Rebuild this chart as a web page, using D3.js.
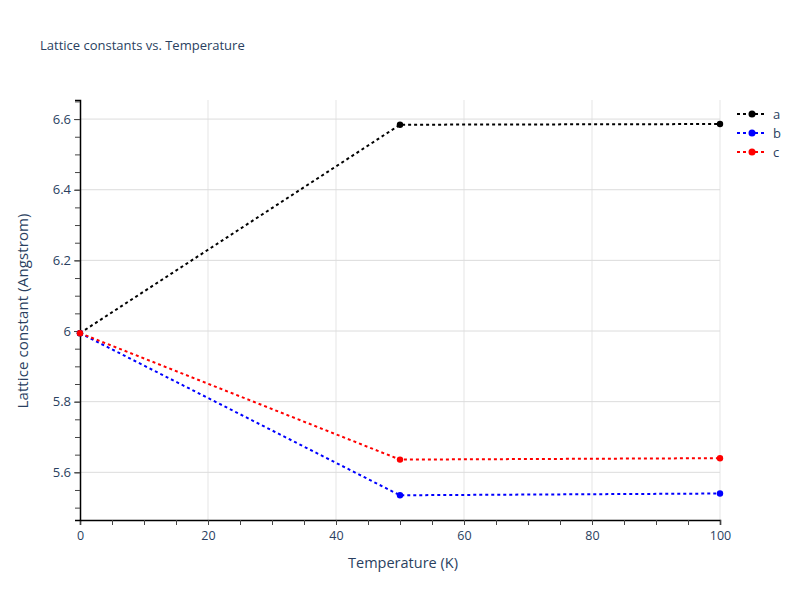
<!DOCTYPE html>
<html><head><meta charset="utf-8">
<script src="https://cdn.jsdelivr.net/npm/d3@7/dist/d3.min.js"></script>
<style>body{margin:0;background:#fff}text{font-family:"Open Sans",sans-serif}</style>
</head><body><svg id="c" width="800" height="600"></svg>
<script>
const temps = [0, 50, 100];
const seriesNames = ["a", "b", "c"];
const aVals = [5.994, 6.584, 6.586];
const bVals = [5.994, 5.535, 5.540];
const cVals = [5.994, 5.636, 5.640];
const colors = ["#000000", "#0000ff", "#ff0000"];
const xTicks = [0, 20, 40, 60, 80, 100];
const yTicks = [5.6, 5.8, 6.0, 6.2, 6.4, 6.6];
const yTickLabels = ["5.6", "5.8", "6", "6.2", "6.4", "6.6"];
const values = [aVals, bVals, cVals];

const svg = d3.select("#c");
const L = 80, R = 720, T = 100, B = 520;
const x = d3.scaleLinear().domain([0, 100]).range([L, R]);
const y = d3.scaleLinear().domain([5.465, 6.654]).range([B, T]);
const txt = "#2a3f5f";

// gridlines
svg.append("g").selectAll("line").data(xTicks.slice(1)).join("line")
  .attr("x1", d => x(d)).attr("x2", d => x(d)).attr("y1", T).attr("y2", B)
  .attr("stroke", "#e5e5e5").attr("stroke-width", 1);
svg.append("g").selectAll("line").data(yTicks).join("line")
  .attr("x1", L).attr("x2", R).attr("y1", d => y(d)).attr("y2", d => y(d))
  .attr("stroke", "#dcdcdc").attr("stroke-width", 1);

// axes
const xMinor = d3.range(0, 101, 5);
const yMinor = d3.range(5.5, 6.66, 0.05);
const xa = svg.append("g").attr("transform", `translate(0,${B})`);
xa.call(d3.axisBottom(x).tickValues(xMinor).tickFormat("").tickSizeOuter(0).tickSize(5));
xa.selectAll("path").attr("stroke", "#000");
xa.selectAll("line").attr("stroke", "#444");
const xa2 = svg.append("g").attr("transform", `translate(0,${B})`);
xa2.call(d3.axisBottom(x).tickValues(xTicks).tickFormat(d3.format("d")).tickSize(5).tickPadding(6));
xa2.select("path").remove();
xa2.selectAll("line").attr("stroke", "#444");
xa2.selectAll("text").attr("fill", txt).attr("font-size", 12.5);

const ya = svg.append("g").attr("transform", `translate(${L},0)`);
ya.call(d3.axisLeft(y).tickValues(yMinor.filter(v => v >= 5.465 && v <= 6.654)).tickFormat("").tickSizeOuter(0).tickSize(5));
ya.selectAll("path").attr("stroke", "#000");
ya.selectAll("line").attr("stroke", "#444");
const ya2 = svg.append("g").attr("transform", `translate(${L},0)`);
ya2.call(d3.axisLeft(y).tickValues(yTicks).tickFormat((d, i) => yTickLabels[i]).tickSize(6).tickPadding(3));
ya2.select("path").remove();
ya2.selectAll("line").attr("stroke", "#444");
ya2.selectAll("text").attr("fill", txt).attr("font-size", 13);

svg.selectAll(".domain").attr("stroke-width", 1.5);

// series
const line = d3.line().x((d, i) => x(temps[i])).y(d => y(d));
values.forEach((vals, k) => {
  svg.append("path").datum(vals).attr("d", line).attr("fill", "none")
    .attr("stroke", colors[k]).attr("stroke-width", 2).attr("stroke-dasharray", "3,3");
  svg.append("g").selectAll("circle").data(vals).join("circle")
    .attr("cx", (d, i) => x(temps[i])).attr("cy", d => y(d)).attr("r", 3.2)
    .attr("fill", colors[k]);
});

// title
svg.append("text").attr("x", 40).attr("y", 50).attr("font-size", 13).attr("fill", txt)
  .text("Lattice constants vs. Temperature");
svg.append("text").attr("x", 403).attr("y", 568).attr("text-anchor", "middle")
  .attr("font-size", 14.5).attr("fill", txt).text("Temperature (K)");
svg.append("text").attr("transform", `translate(28,311) rotate(-90)`)
  .attr("text-anchor", "middle").attr("font-size", 15).attr("fill", txt)
  .attr("textLength", 195).attr("lengthAdjust", "spacing")
  .text("Lattice constant (Angstrom)");

// legend
const lg = svg.append("g").attr("transform", "translate(737,114)");
seriesNames.forEach((n, k) => {
  const g = lg.append("g").attr("transform", `translate(0,${k * 19})`);
  g.append("line").attr("x1", 0).attr("x2", 30).attr("y1", 0).attr("y2", 0)
    .attr("stroke", colors[k]).attr("stroke-width", 2).attr("stroke-dasharray", "3,3");
  g.append("circle").attr("cx", 15).attr("cy", 0).attr("r", 3.5).attr("fill", colors[k]);
  g.append("text").attr("x", 36).attr("y", 4.5).attr("font-size", 13).attr("fill", txt).text(n);
});
</script></body></html>
